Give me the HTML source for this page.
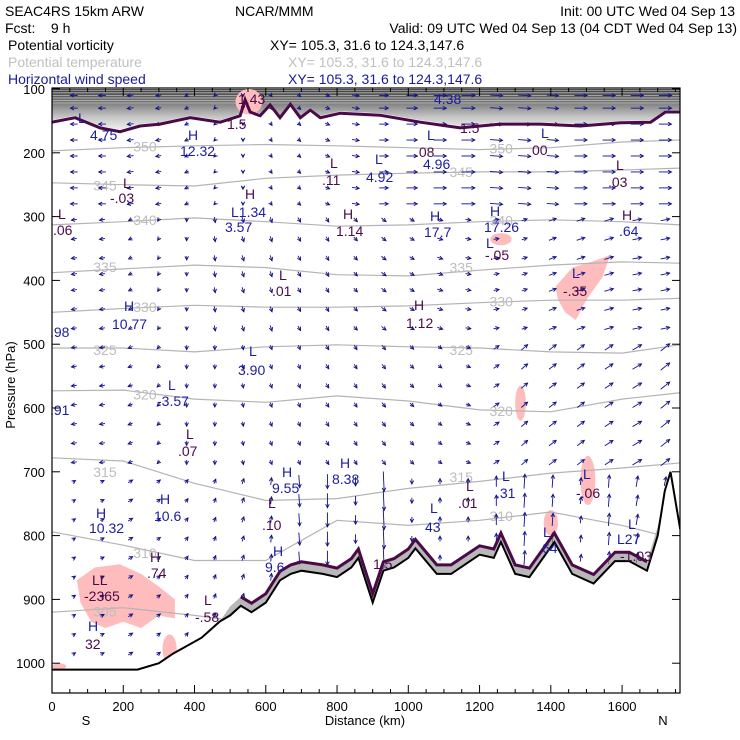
<!DOCTYPE html>
<html><head><meta charset="utf-8">
<style>
html,body{margin:0;padding:0;background:#fff;}
svg{display:block;font-family:"Liberation Sans",sans-serif;}
.hd{font-size:14px;}
</style></head>
<body>
<svg id="chart" width="740" height="740" viewBox="0 0 740 740" xmlns="http://www.w3.org/2000/svg">
<defs>
<linearGradient id="strat" x1="0" y1="0" x2="0" y2="1">
<stop offset="0" stop-color="#3a3a3a"/><stop offset="0.35" stop-color="#808080"/><stop offset="0.7" stop-color="#c8c8c8"/><stop offset="1" stop-color="#f0f0f0"/>
</linearGradient>
<clipPath id="plotclip"><rect x="52" y="88" width="628" height="605"/></clipPath>
</defs>
<g class="hd">
<text x="5" y="16">SEAC4RS 15km ARW</text>
<text x="235" y="16">NCAR/MMM</text>
<text x="735" y="16" text-anchor="end">Init: 00 UTC Wed 04 Sep 13</text>
<text x="5" y="33" xml:space="preserve">Fcst:    9 h</text>
<text x="737" y="33" text-anchor="end">Valid: 09 UTC Wed 04 Sep 13 (04 CDT Wed 04 Sep 13)</text>
<text x="8" y="50">Potential vorticity</text>
<text x="270" y="50">XY= 105.3, 31.6 to 124.3,147.6</text>
<text x="8" y="67" fill="#c0c0c0">Potential temperature</text>
<text x="288" y="67" fill="#c0c0c0">XY= 105.3, 31.6 to 124.3,147.6</text>
<text x="8" y="84" fill="#1a1a9a">Horizontal wind speed</text>
<text x="288" y="84" fill="#1a1a9a">XY= 105.3, 31.6 to 124.3,147.6</text>
</g>
<g id="plot" clip-path="url(#plotclip)"></g>
<g id="over"></g>
<g id="axes"></g>
</svg>
<script>
// ---- data ----
const xTicksKm = [0,200,400,600,800,1000,1200,1400,1600];
const yTicksHpa = [100,200,300,400,500,600,700,800,900,1000];
const terrainKm  = [0,240,300,340,420,470,500,530,560,600,640,670,700,760,800,840,860,880,900,930,960,1000,1020,1080,1120,1200,1240,1260,1300,1340,1410,1460,1520,1580,1620,1670,1700,1720,1736,1763];
const terrainHpa = [1010,1010,1000,985,960,935,925,910,920,905,870,860,855,860,865,850,835,870,905,855,850,835,820,860,860,830,835,810,860,865,810,860,875,840,840,855,800,730,700,790];
const pvTopKm  = [0,65,135,191,247,303,388,472,528,542,556,584,612,640,669,697,725,753,809,921,1034,1146,1258,1371,1483,1596,1680,1722,1763];
const pvTopHpa = [152,145,161,167,158,155,145,152,142,117,136,142,125,145,124,145,133,145,138,141,152,161,155,155,158,153,152,136,136];
const thetaKm = [0,200,400,600,800,1000,1200,1400,1600,1763];
const thetaLevels = [350,345,340,335,330,325,320,315,310,305];
const theta350 = [197,192,189,187,189,192,195,192,183,180];
const theta345 = [247,250,252,240,235,232,230,230,227,224];
const theta340 = [313,308,302,308,315,313,308,305,308,313];
const theta335 = [388,382,376,380,391,393,384,376,371,373];
const theta330 = [450,444,439,442,442,440,435,431,431,428];
const theta325 = [506,506,512,504,501,504,506,512,514,501];
const theta320 = [573,572,586,591,581,589,603,606,586,576];
const theta315 = [678,683,718,745,742,726,715,702,694,686];
const theta310 = [794,815,839,839,776,784,776,763,784,807];
const theta305 = [920,913,925,940,960,960,960,960,960,960];
const windColsKm = [62,141,220,299,378,457,536,615,694,773,852,931,1010,1089,1168,1247,1326,1405,1484,1563,1642,1721];
const windRowsHpa = [110,130,155,180,205,230,255,280,305,335,365,390,415,445,475,505,535,565,595,625,655,685,715,745,775,805,835,865,895,925,955,985];
const uUpper = [-8,-8,-7,-6,-4,-2,0,2,3,5,8,10,12,14,15,14,14,13,14,14,14,14];
const vUpper = [0,0,1,1,2,2,3,3,3,2,1,0,0,0,0,1,1,1,0,0,0,0];
const uMid = [-6,-6,-4,-2,0,1,2,2,3,3,4,5,5,6,6,6,6,8,9,10,10,10];
const vMid = [1,1,2,3,4,6,6,6,5,5,4,4,3,2,1,-1,-2,-3,-3,-3,-2,-2];
const uLow = [-6,-6,-5,-3,0,0,1,2,2,3,3,4,4,4,5,6,7,8,8,9,10,10];
const vLow = [1,1,2,3,5,5,5,5,5,5,5,5,4,3,2,-4,-6,-6,-6,-6,-6,-8];
const uBot = [3,4,5,4,3,2,2,1,1,0,0,1,0,0,0,0,1,1,1,1,2,2];
const vBot = [-2,-2,-3,-3,-4,-5,-6,-8,14,16,10,22,6,-6,-6,-12,-16,-14,-8,-14,-12,-10];
const pinkBlob1Km = [70,120,190,250,300,345,345,300,250,200,150,110,80];
const pinkBlob1Hpa = [870,850,845,860,880,900,930,925,945,935,945,935,905];
const pinkBlob2Km = [1413,1460,1520,1567,1545,1500,1470,1440,1420];
const pinkBlob2Hpa = [410,380,370,360,395,430,462,450,430];
// ---- scales ----
const X = km => 52 + km*0.3563;
const Y = p => 89 + (p-100)*0.638;
const NS = 'http://www.w3.org/2000/svg';
const plot = document.getElementById('plot'), over = document.getElementById('over'), axes = document.getElementById('axes');
function mk(tag, attrs, parent){const e=document.createElementNS(NS,tag);for(const k in attrs)e.setAttribute(k,attrs[k]);parent.appendChild(e);return e;}
function pts(kms, ps){return kms.map((k,i)=>X(k).toFixed(1)+','+Y(ps[i]).toFixed(1)).join(' ');}

let strat = mk('polygon',{points:X(0)+','+Y(100)+' '+pts(pvTopKm,pvTopHpa.map(p=>p-3))+' '+X(1763)+','+Y(100),fill:'url(#strat)'},plot);


for(let i=0;i<6;i++){
  let l=mk('line',{x1:52,x2:680,y1:Y(102+i*4),y2:Y(102+i*4),stroke:'#bbb','stroke-width':0.8},plot);
  
  
}
const pinkSmall=[[515,590,100,140],[1230,1290,326,345],[1300,1330,565,620],[1483,1525,675,752],[310,350,955,1000],[0,40,1000,1010],[1380,1420,760,800]];
[[pinkBlob1Km,pinkBlob1Hpa],[pinkBlob2Km,pinkBlob2Hpa]].forEach(b=>{
  let e=mk('polygon',{points:pts(b[0],b[1]),fill:'#ffbcbc'},plot);
  
  
});
pinkSmall.forEach(s=>{
  let e=mk('ellipse',{cx:X((s[0]+s[1])/2),cy:Y((s[2]+s[3])/2),rx:(X(s[1])-X(s[0]))/2,ry:(Y(s[3])-Y(s[2]))/2,fill:'#ffbcbc'},plot);
  
  
});
const thetaSeries=[theta350,theta345,theta340,theta335,theta330,theta325,theta320,theta315,theta310,theta305];
thetaSeries.forEach((s,i)=>{
  let e=mk('polyline',{points:pts(thetaKm,s),fill:'none',stroke:'#b4b4b4','stroke-width':1.2},plot);
  
  
  [1,6].forEach(j=>{
    let t=mk('text',{x:X(thetaKm[j])+(i%2?-30:10),y:Y((s[j]+s[j+1])/2)+5,fill:'#bdbdbd','font-size':14},plot);
    t.textContent=thetaLevels[i];
    
    
  });
});
function interpTerrain(km){for(let i=0;i<terrainKm.length-1;i++){if(km>=terrainKm[i]&&km<=terrainKm[i+1]){const f=(km-terrainKm[i])/(terrainKm[i+1]-terrainKm[i]);return terrainHpa[i]+f*(terrainHpa[i+1]-terrainHpa[i]);}}return 1010;}
const wg=mk('g',{stroke:'#10108a',fill:'#10108a','stroke-width':0.9},plot);


windColsKm.forEach((km,c)=>{
  windRowsHpa.forEach(p=>{
    if(p>interpTerrain(km)-8) return;
    let u,v;
    if(p<300){u=uUpper[c];v=vUpper[c];}else if(p<500){u=uMid[c];v=vMid[c];}else if(p<700){u=uLow[c];v=vLow[c];}else{u=uBot[c];v=vBot[c];}
    u*=0.9; v*=0.9;
    const x0=X(km), y0=Y(p);
    const L=Math.hypot(u,v);
    if(L<0.5){let d=mk('circle',{cx:x0,cy:y0,r:0.7},wg);return;}
    const x1=x0+u, y1=y0+v;
    let a=mk('line',{x1:x0-u/2,y1:y0-v/2,x2:x1-u/2,y2:y1-v/2},wg);
    
    
    const ux=u/L, uy=v/L, hx=x1-u/2, hy=y1-v/2;
    let h=mk('polyline',{points:(hx-3.5*ux-1.8*uy)+','+(hy-3.5*uy+1.8*ux)+' '+hx+','+hy+' '+(hx-3.5*ux+1.8*uy)+','+(hy-3.5*uy-1.8*ux),fill:'none'},wg);
    
    
  });
});
const tPts=pts(terrainKm,terrainHpa);
const below=mk('polygon',{points:tPts+' '+X(1763)+','+Y(1060)+' '+X(0)+','+Y(1060),fill:'#fff'},plot);


const pvLowHpa=terrainHpa.map((p,i)=>terrainKm[i]>=480&&terrainKm[i]<=1700?p-14:p);
const sh=mk('polygon',{points:pts(terrainKm,pvLowHpa)+' '+pts(terrainKm.slice().reverse(),terrainHpa.slice().reverse()),fill:'#9a9a9a','fill-opacity':0.7},plot);


const pvl=mk('polyline',{points:pts(terrainKm.slice(7,36),pvLowHpa.slice(7,36)),fill:'none',stroke:'#4a0a48','stroke-width':3},plot);


const pvt=mk('polyline',{points:pts(pvTopKm,pvTopHpa),fill:'none',stroke:'#4a0a48','stroke-width':3},plot);


const terr=mk('polyline',{points:tPts,fill:'none',stroke:'#000','stroke-width':2},plot);


const labels=[[78,123,'L','b'],[90,140,'4.75','b'],[188,140,'H','b'],[180,156,'12.32','b'],[427,140,'L','b'],[415,157,'.08','p'],[423,169,'4.96','b'],[541,138,'L','b'],[532,155,'00','p'],[434,104,'4.38','b'],[238,104,'1.43','p'],[227,129,'1.5','p'],[460,133,'1.5','p'],
[330,168,'L','p'],[322,185,'.11','p'],[375,164,'L','b'],[366,182,'4.92','b'],[123,188,'L','p'],[110,203,'-.03','p'],[616,170,'L','p'],[608,187,'.03','p'],
[58,219,'L','p'],[53,235,'.06','p'],[245,199,'H','p'],[231,217,'L1.34','b'],[225,232,'3.57','b'],[343,219,'H','p'],[336,236,'1.14','p'],[430,221,'H','b'],[424,237,'17.7','b'],[490,216,'H','b'],[484,232,'17.26','b'],[486,248,'L','b'],[485,260,'-.05','p'],[622,220,'H','p'],[619,236,'.64','b'],
[279,280,'L','p'],[272,296,'.01','p'],[572,278,'L','b'],[563,296,'-.35','p'],[124,311,'H','b'],[112,329,'10.77','b'],[50,337,'.98','b'],[414,310,'H','p'],[406,328,'1.12','p'],
[249,356,'L','b'],[238,375,'3.90','b'],[168,390,'L','b'],[157,406,'-3.57','b'],[50,415,'.91','b'],[186,439,'L','p'],[178,456,'.07','p'],
[282,477,'H','b'],[272,493,'9.55','b'],[340,468,'H','b'],[332,484,'8.38','b'],[466,491,'L','p'],[458,508,'.01','p'],[502,481,'L','b'],[496,498,'.31','b'],[583,479,'L','b'],[576,498,'-.06','p'],
[96,518,'H','b'],[89,533,'10.32','b'],[160,504,'H','b'],[154,521,'10.6','b'],[268,508,'L','p'],[262,530,'.10','p'],[430,513,'L','b'],[425,532,'43','b'],
[273,556,'H','b'],[265,572,'9.6','b'],[373,569,'1.5','p'],[543,537,'L','b'],[542,553,'64','b'],[628,529,'L','b'],[617,544,'L27','b'],[620,561,'-1.03','p'],
[150,562,'H','p'],[147,578,'.74','p'],[92,585,'LL','p'],[84,601,'-2365','p'],[204,605,'L','p'],[195,622,'-.58','p'],[88,631,'H','b'],[85,649,'32','p']];
labels.forEach(l=>{
  let t=mk('text',{x:l[0],y:l[1],fill:l[3]==='b'?'#1c1ca0':'#4a0a48','font-size':14},over);
  t.textContent=l[2];
  
  
});
let fr=mk('rect',{x:52,y:88,width:628,height:605,fill:'none',stroke:'#000','stroke-width':1.2},axes);


yTicksHpa.forEach(p=>{
  let tk=mk('line',{x1:52,x2:60,y1:Y(p),y2:Y(p),stroke:'#000'},axes);
  
  
  let tk2=mk('line',{x1:672,x2:680,y1:Y(p),y2:Y(p),stroke:'#000'},axes);
  
  
  let t=mk('text',{x:45,y:Y(p)+5,'text-anchor':'end','font-size':13},axes);
  t.textContent=p;
  
  
});
for(let km=0;km<=1760;km+=50){
  const big=km%200===0;
  let tk=mk('line',{x1:X(km),x2:X(km),y1:693,y2:big?685:689,stroke:'#000'},axes);
  
  
  let tt=mk('line',{x1:X(km),x2:X(km),y1:88,y2:big?96:92,stroke:'#000'},axes);
  
  
}
xTicksKm.forEach(km=>{
  let t=mk('text',{x:X(km),y:711,'text-anchor':'middle','font-size':13},axes);
  t.textContent=km;
  
  
});
[['S',86,'south-label'],['N',663,'north-label'],['Distance (km)',365,'x-axis-title']].forEach(a=>{
  let t=mk('text',{x:a[1],y:725,'text-anchor':'middle','font-size':13},axes);
  t.textContent=a[0];
  
  
});
let yt=mk('text',{x:0,y:0,'text-anchor':'middle','font-size':13,transform:'translate(15,385) rotate(-90)'},axes);
yt.textContent='Pressure (hPa)';


</script>
</body></html>
